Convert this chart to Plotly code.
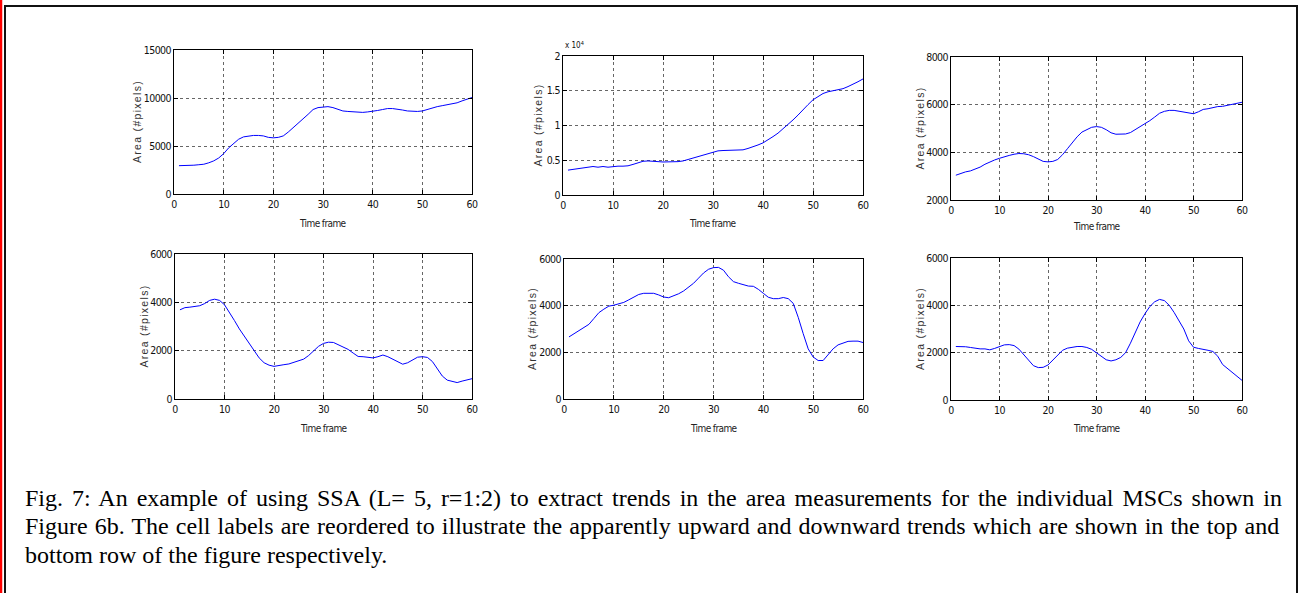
import plotly.graph_objects as go

W, H = 1299, 593

frames = list(range(1, 61))

cell_a = [2950, 2950, 2950, 3000, 3050, 3100, 3250, 3450, 3750, 4200,
          4800, 5300, 5700, 5950, 6050, 6100, 6100, 6050, 5900, 5850,
          5900, 6050, 6450, 6900, 7300, 7800, 8300, 8800, 9000, 9050,
          9100, 9000, 8800, 8650, 8600, 8550, 8500, 8500, 8550, 8600,
          8700, 8800, 8900, 8900, 8850, 8750, 8650, 8600, 8600, 8650,
          8800, 9000, 9100, 9200, 9300, 9400, 9500, 9700, 9900, 10050]
cell_b = [3580, 3700, 3800, 3950, 4000, 4100, 4000, 4100, 4000, 4100,
          4150, 4150, 4200, 4400, 4600, 4850, 4900, 4900, 4800, 4750,
          4750, 4750, 4800, 4900, 5100, 5300, 5500, 5700, 6000, 6200,
          6350, 6400, 6400, 6400, 6400, 6500, 6700, 6900, 7200, 7500,
          7900, 8400, 8900, 9500, 10100, 10800, 11500, 12300, 13000, 13700,
          14200, 14600, 14850, 15000, 15100, 15300, 15600, 15900, 16300, 16700]
cell_c = [3040, 3120, 3180, 3220, 3300, 3380, 3500, 3600, 3680, 3750,
          3820, 3870, 3920, 3950, 3940, 3900, 3820, 3720, 3620, 3600,
          3620, 3700, 3900, 4150, 4400, 4650, 4850, 4950, 5050, 5080,
          5050, 4950, 4820, 4760, 4760, 4770, 4830, 4950, 5080, 5200,
          5330, 5480, 5640, 5720, 5760, 5760, 5730, 5690, 5650, 5620,
          5700, 5800, 5830, 5880, 5920, 5930, 5970, 6000, 6060, 6100]
cell_d = [3690, 3780, 3800, 3820, 3860, 3950, 4080, 4130, 4080, 3900,
          3600, 3250, 2900, 2600, 2250, 1950, 1700, 1500, 1400, 1350,
          1400, 1420, 1450, 1520, 1580, 1650, 1800, 2000, 2180, 2300,
          2350, 2340, 2250, 2130, 2050, 1900, 1760, 1750, 1720, 1700,
          1750, 1820, 1750, 1650, 1550, 1440, 1500, 1620, 1730, 1750,
          1720, 1550, 1250, 950, 780, 720, 680, 740, 800, 840]
cell_e = [2660, 2800, 2950, 3080, 3200, 3450, 3700, 3850, 3980, 4020,
          4080, 4140, 4250, 4370, 4480, 4530, 4530, 4530, 4460, 4370,
          4340, 4420, 4510, 4630, 4780, 4960, 5180, 5400, 5560, 5630,
          5640, 5520, 5240, 5030, 4960, 4900, 4840, 4830, 4700, 4530,
          4360, 4300, 4300, 4350, 4300, 4100, 3500, 2800, 2150, 1800,
          1650, 1650, 1900, 2150, 2320, 2400, 2470, 2480, 2480, 2420]
cell_f = [2260, 2260, 2250, 2220, 2180, 2160, 2160, 2120, 2180, 2260,
          2330, 2340, 2300, 2150, 1900, 1650, 1450, 1370, 1380, 1480,
          1700, 1920, 2100, 2190, 2240, 2260, 2260, 2220, 2140, 1980,
          1820, 1700, 1650, 1700, 1800, 2000, 2400, 2850, 3300, 3650,
          3950, 4150, 4250, 4200, 4000, 3700, 3350, 3000, 2500, 2230,
          2180, 2150, 2100, 2050, 1850, 1500, 1340, 1170, 1000, 830]

series = [cell_a, cell_b, cell_c, cell_d, cell_e, cell_f]

x_ticks = [0, 10, 20, 30, 40, 50, 60]
x_ticktext = ["0", "10", "20", "30", "40", "50", "60"]
y_ticks = [
    [0, 5000, 10000, 15000],
    [0, 5000, 10000, 15000, 20000],
    [2000, 4000, 6000, 8000],
    [0, 2000, 4000, 6000],
    [0, 2000, 4000, 6000],
    [0, 2000, 4000, 6000],
]
y_ticktext = [
    ["0", "5000", "10000", "15000"],
    ["0", "0.5", "1", "1.5", "2"],
    ["2000", "4000", "6000", "8000"],
    ["0", "2000", "4000", "6000"],
    ["0", "2000", "4000", "6000"],
    ["0", "2000", "4000", "6000"],
]
y_ranges = [[0, 15000], [0, 20000], [2000, 8000], [0, 6000], [0, 6000], [0, 6000]]

x_label = "Time frame"
y_label = "Area (#pixels)"
caption_lines = [
    "Fig. 7: An example of using SSA (L= 5, r=1:2) to extract trends in the area measurements for the individual MSCs shown in",
    "Figure 6b. The cell labels are reordered to illustrate the apparently upward and downward trends which are shown in the top and",
    "bottom row of the figure respectively.",
]

# panel boxes in pixels: (left, right, top, bottom)
boxes = [
    (174, 472, 50, 194),
    (563, 863, 56, 195),
    (951, 1242, 57, 200),
    (175, 472, 254, 399),
    (564, 863, 259, 399),
    (951, 1242, 258, 400),
]
ytitle_x = [137, 538, 920, 143, 532, 920]
xtitle_y = [223, 223, 227, 428, 428, 428]

NARROW = "Liberation Sans Narrow, DejaVu Sans Condensed, sans-serif"
TICKFONT = dict(family=NARROW, size=10.5, color="#111")
XTITLEFONT = dict(family=NARROW, size=10, color="#222")
YTITLEFONT = dict(family="Liberation Sans, Arial, sans-serif", size=10.5, color="#333")


def squeeze(s, ls):
    return f'<span style="letter-spacing:{ls}px">{s}</span>'


fig = go.Figure()
annotations = []
shapes = []


def px(x):
    return x / W


def py(y):
    return 1 - y / H


for i, (ys, box) in enumerate(zip(series, boxes)):
    n = i + 1
    xa = "x" if n == 1 else f"x{n}"
    ya = "y" if n == 1 else f"y{n}"
    fig.add_trace(go.Scatter(x=frames, y=ys, mode="lines",
                             line=dict(color="#0000ff", width=1),
                             xaxis=xa, yaxis=ya, showlegend=False,
                             hoverinfo="skip"))
    l, r, t, b = box
    axis_common = dict(showline=True, linecolor="black", linewidth=1, mirror="ticks",
                       ticks="inside", ticklen=4, tickcolor="black", automargin=False,
                       showgrid=True, gridcolor="rgba(0,0,0,0.6)", griddash="dot", gridwidth=1,
                       zeroline=False, tickfont=TICKFONT, fixedrange=True)
    fig.update_layout(**{
        ("xaxis" if n == 1 else f"xaxis{n}"): dict(
            domain=[px(l), px(r)], range=[0, 60], tickvals=x_ticks,
            ticktext=[squeeze(s, -0.5) for s in x_ticktext],
            anchor=ya, **axis_common),
        ("yaxis" if n == 1 else f"yaxis{n}"): dict(
            domain=[py(b), py(t)], range=y_ranges[i], tickvals=y_ticks[i],
            ticktext=[squeeze(s, -0.6) for s in y_ticktext[i]], anchor=xa, **axis_common),
    })
    annotations.append(dict(text=squeeze(x_label, -0.6), x=px((l + r) / 2), y=py(xtitle_y[i]),
                            xref="paper", yref="paper", showarrow=False,
                            xanchor="center", yanchor="middle", font=XTITLEFONT))
    annotations.append(dict(text=squeeze(y_label, 1.3),
                            x=px(ytitle_x[i]), y=py((t + b) / 2),
                            xref="paper", yref="paper", showarrow=False, textangle=-90,
                            xanchor="center", yanchor="middle", font=YTITLEFONT))

# exponent label for the second panel
annotations.append(dict(text="x 10<sup>4</sup>", x=px(563), y=py(45), xref="paper", yref="paper",
                        showarrow=False, xanchor="left", yanchor="middle",
                        font=dict(family=NARROW, size=8, color="#111")))

# caption (justified lines get extra word spacing)
cap_y = [498, 526, 554.5]
spacing = [3.0, 1.1, 0]
for line, yy, sp in zip(caption_lines, cap_y, spacing):
    txt = line if sp == 0 else f'<span style="word-spacing:{sp}px">{line}</span>'
    annotations.append(dict(text=txt, x=px(23), y=py(yy), xref="paper", yref="paper",
                            showarrow=False, xanchor="left", yanchor="middle",
                            font=dict(family="Liberation Serif, Times New Roman, serif",
                                      size=24, color="black")))

# page border
shapes.append(dict(type="line", xref="paper", yref="paper", x0=px(1), x1=px(1), y0=0, y1=1,
                   line=dict(color="#ff0000", width=2.5)))
shapes.append(dict(type="line", xref="paper", yref="paper", x0=px(5), x1=px(5), y0=0, y1=py(5),
                   line=dict(color="#111", width=2)))
shapes.append(dict(type="line", xref="paper", yref="paper", x0=px(4), x1=px(1298), y0=py(6), y1=py(6),
                   line=dict(color="#111", width=2)))
shapes.append(dict(type="line", xref="paper", yref="paper", x0=px(1297), x1=px(1297), y0=0, y1=py(5),
                   line=dict(color="#111", width=2)))

fig.update_layout(width=W, height=H,
                  margin=dict(l=0, r=0, t=0, b=0, pad=0, autoexpand=False),
                  paper_bgcolor="white", plot_bgcolor="white",
                  annotations=annotations, shapes=shapes, showlegend=False)

fig.write_html("out.html", config={"displayModeBar": False},
               post_script="document.body.style.margin='0';document.body.style.overflow='hidden';")
